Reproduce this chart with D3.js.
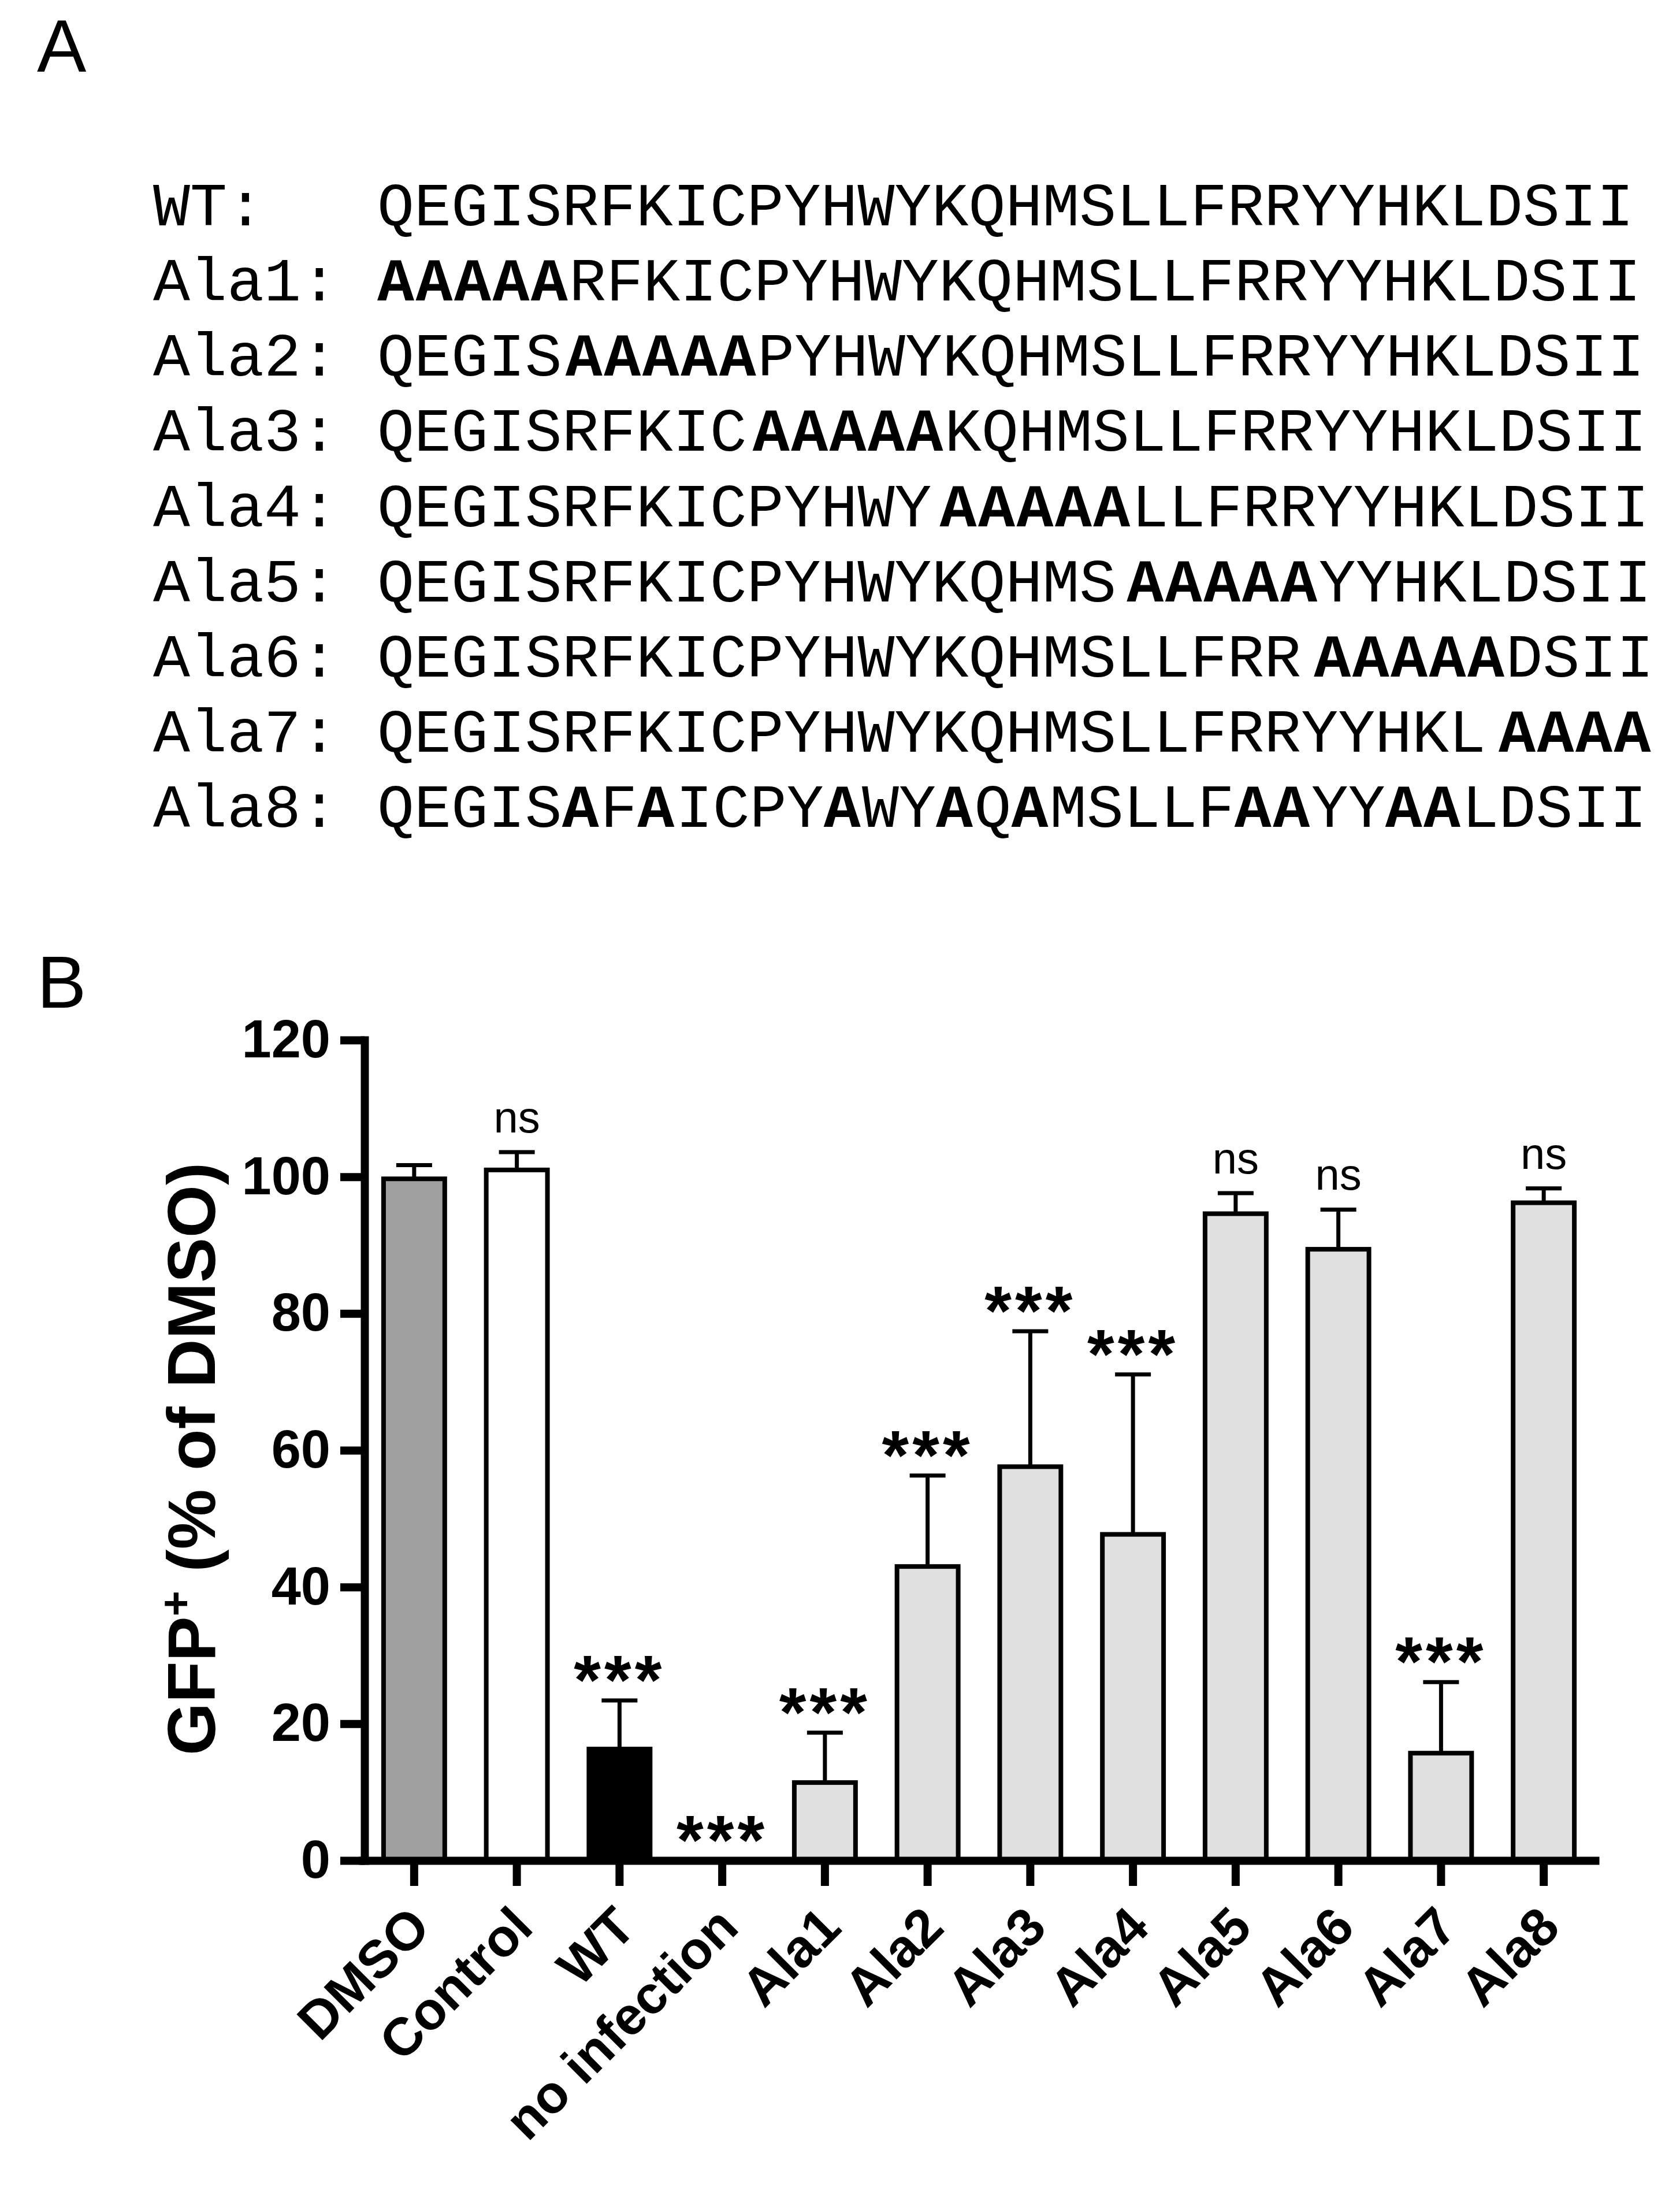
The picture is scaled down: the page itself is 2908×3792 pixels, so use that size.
<!doctype html>
<html>
<head>
<meta charset="utf-8">
<title>GFP+ alanine scan</title>
<script src="https://cdn.jsdelivr.net/npm/d3@7"></script>
<style>
  html, body { margin:0; padding:0; background:#fff; }
  svg { display:block; }
</style>
</head>
<body>
<svg id="fig"></svg>
<script>
// ---- panel A : sequences ----
var seqNames = ['WT:', 'Ala1:', 'Ala2:', 'Ala3:', 'Ala4:', 'Ala5:', 'Ala6:', 'Ala7:', 'Ala8:']
var seqs = [
  'QEGISRFKICPYHWYKQHMSLLFRRYYHKLDSII',
  'AAAAARFKICPYHWYKQHMSLLFRRYYHKLDSII',
  'QEGISAAAAAPYHWYKQHMSLLFRRYYHKLDSII',
  'QEGISRFKICAAAAAKQHMSLLFRRYYHKLDSII',
  'QEGISRFKICPYHWYAAAAALLFRRYYHKLDSII',
  'QEGISRFKICPYHWYKQHMSAAAAAYYHKLDSII',
  'QEGISRFKICPYHWYKQHMSLLFRRAAAAADSII',
  'QEGISRFKICPYHWYKQHMSLLFRRYYHKLAAAA',
  'QEGISAFAICPYAWYAQAMSLLFAAYYAALDSII'
]

// ---- panel B : GFP+ (% of DMSO) ----
var groups = ['DMSO', 'Control', 'WT', 'no infection', 'Ala1', 'Ala2', 'Ala3', 'Ala4', 'Ala5', 'Ala6', 'Ala7', 'Ala8']
var means  = [99.7, 101.0, 16.3, 0, 11.4, 43.0, 57.6, 47.7, 94.6, 89.4, 15.7, 96.2]
var sems   = [2.0, 2.6, 7.1, 0, 7.3, 13.3, 19.8, 23.4, 3.0, 5.8, 10.4, 2.1]
var marks  = ['', 'ns', '***', '***', '***', '***', '***', '***', 'ns', 'ns', '***', 'ns']
var fills  = ['#a0a0a0', '#ffffff', '#000000', '#e0e0e0', '#e0e0e0', '#e0e0e0', '#e0e0e0', '#e0e0e0', '#e0e0e0', '#e0e0e0', '#e0e0e0', '#e0e0e0']
var yTicks = [0, 20, 40, 60, 80, 100, 120]

var W = 2908, H = 3792
var sans = "'Liberation Sans', Arial, Helvetica, sans-serif"
var mono = "'Liberation Mono', 'Courier New', monospace"

var svg = d3.select('#fig').attr('width', W).attr('height', H)
svg.append('rect').attr('width', W).attr('height', H).attr('fill', '#fff')

/*
 * panel letters
 */
svg.append('text').attr('x', 64).attr('y', 124)
   .attr('font-family', sans).attr('font-size', 128).text('A')
svg.append('text').attr('x', 64).attr('y', 1744)
   .attr('font-family', sans).attr('font-size', 128).text('B')

/*
 * A : aligned sequences, substituted residues in bold
 */
var rowY = d3.scalePoint().domain(seqNames).range([390, 1431])
var seqX = 653
// small visual gap the original leaves before the bold block
var runGap = [0, 0, 6, 10, 14, 18, 22, 22, 0]

function toRuns(s){
  var wt = seqs[0], out = []
  for (var i = 0; i < s.length; i++){
    var b = s[i] !== wt[i]
    if (out.length && out[out.length - 1].bold === b) out[out.length - 1].text += s[i]
    else out.push({bold: b, text: s[i], start: i})
  }
  return out
}

var seqG = svg.append('g').attr('font-family', mono).attr('font-size', 106.6)

seqG.selectAll('text.lab')
  .data(seqNames)
  .enter().append('text')
  .attr('class', 'lab')
  .attr('x', 265)
  .attr('y', function(d){ return rowY(d) })
  .text(function(d){ return d })

seqG.selectAll('text.seq')
  .data(seqs)
  .enter().append('text')
  .attr('class', 'seq')
  .attr('x', seqX)
  .attr('y', function(d, i){ return rowY(seqNames[i]) })
  .each(function(d, i){
    var t = d3.select(this)
    toRuns(d).forEach(function(r){
      var sp = t.append('tspan').text(r.text)
      if (r.bold){
        sp.attr('font-weight', 'bold').attr('letter-spacing', 2.5)
        if (r.start > 0 && r.text.length > 3) sp.attr('dx', runGap[i])
      }
    })
  })

/*
 * B : bar chart
 */
var x = d3.scaleBand().domain(groups).range([628, 2761]).paddingInner(0.404).paddingOuter(0.202)
var y = d3.scaleLinear().domain([0, 120]).range([3220, 1800])
var bw = x.bandwidth()

var chart = svg.append('g')
var shown = groups.filter(function(g, i){ return means[i] > 0 })

// bars
chart.selectAll('rect.bar')
  .data(shown)
  .enter().append('rect')
  .attr('class', 'bar')
  .attr('x', function(g){ return x(g) })
  .attr('width', bw)
  .attr('y', function(g){ return y(means[groups.indexOf(g)]) })
  .attr('height', function(g){ return y(0) - y(means[groups.indexOf(g)]) })
  .attr('fill', function(g){ return fills[groups.indexOf(g)] })
  .attr('stroke', '#000').attr('stroke-width', 8)

// upper error bars
var eb = chart.selectAll('g.err')
  .data(shown)
  .enter().append('g')
  .attr('class', 'err')
  .attr('stroke', '#000').attr('stroke-width', 7)
eb.append('line')
  .attr('x1', function(g){ return x(g) + bw / 2 })
  .attr('x2', function(g){ return x(g) + bw / 2 })
  .attr('y1', function(g){ var i = groups.indexOf(g); return y(means[i]) })
  .attr('y2', function(g){ var i = groups.indexOf(g); return y(means[i] + sems[i]) })
eb.append('line')
  .attr('x1', function(g){ return x(g) + bw / 2 - 31 })
  .attr('x2', function(g){ return x(g) + bw / 2 + 31 })
  .attr('y1', function(g){ var i = groups.indexOf(g); return y(means[i] + sems[i]) })
  .attr('y2', function(g){ var i = groups.indexOf(g); return y(means[i] + sems[i]) })

// significance marks
chart.selectAll('text.sig')
  .data(groups.filter(function(g, i){ return marks[i] !== '' }))
  .enter().append('text')
  .attr('class', 'sig')
  .attr('text-anchor', 'middle')
  .attr('font-family', sans)
  .attr('x', function(g){ return x(g) + bw / 2 })
  .attr('y', function(g){
    var i = groups.indexOf(g), top = y(means[i] + sems[i])
    return marks[i] === 'ns' ? top - 34 : top + 6
  })
  .attr('font-size', function(g){ return marks[groups.indexOf(g)] === 'ns' ? 76 : 120 })
  .attr('font-weight', function(g){ return marks[groups.indexOf(g)] === 'ns' ? 'normal' : 'bold' })
  .attr('letter-spacing', function(g){ return marks[groups.indexOf(g)] === 'ns' ? 0 : 6 })
  .text(function(g){ return marks[groups.indexOf(g)] })

// y axis
var yAxis = chart.append('g')
  .attr('transform', 'translate(631,0)')
  .call(d3.axisLeft(y).tickValues(yTicks).tickSize(42).tickSizeOuter(0).tickPadding(17))
yAxis.select('.domain').attr('stroke-width', 14).attr('stroke-linecap', 'square')
yAxis.selectAll('.tick line').attr('stroke-width', 14)
yAxis.selectAll('.tick text')
  .attr('font-family', sans).attr('font-size', 92).attr('font-weight', 'bold').attr('fill', '#000')

// x axis
var xAxis = chart.append('g')
  .attr('transform', 'translate(0,' + y(0) + ')')
  .call(d3.axisBottom(x).tickSize(44).tickSizeOuter(0))
xAxis.select('.domain').attr('stroke-width', 14).attr('stroke-linecap', 'square')
xAxis.selectAll('.tick line').attr('stroke-width', 14)
xAxis.selectAll('.tick text')
  .attr('font-family', sans).attr('font-size', 92).attr('font-weight', 'bold').attr('fill', '#000')
  .attr('text-anchor', 'end')
  .attr('x', 0).attr('y', 0).attr('dy', 0)
  .attr('transform', 'translate(32,120) rotate(-45)')

chart.selectAll('.domain, .tick line').attr('stroke', '#000')

// y title
var title = chart.append('text')
  .attr('transform', 'translate(372,2525) rotate(-90)')
  .attr('text-anchor', 'middle')
  .attr('font-family', sans).attr('font-size', 117).attr('font-weight', 'bold')
title.append('tspan').text('GFP')
title.append('tspan').attr('font-size', 76).attr('dy', -42).text('+')
title.append('tspan').attr('dy', 42).text(' (% of DMSO)')
</script>
</body>
</html>
